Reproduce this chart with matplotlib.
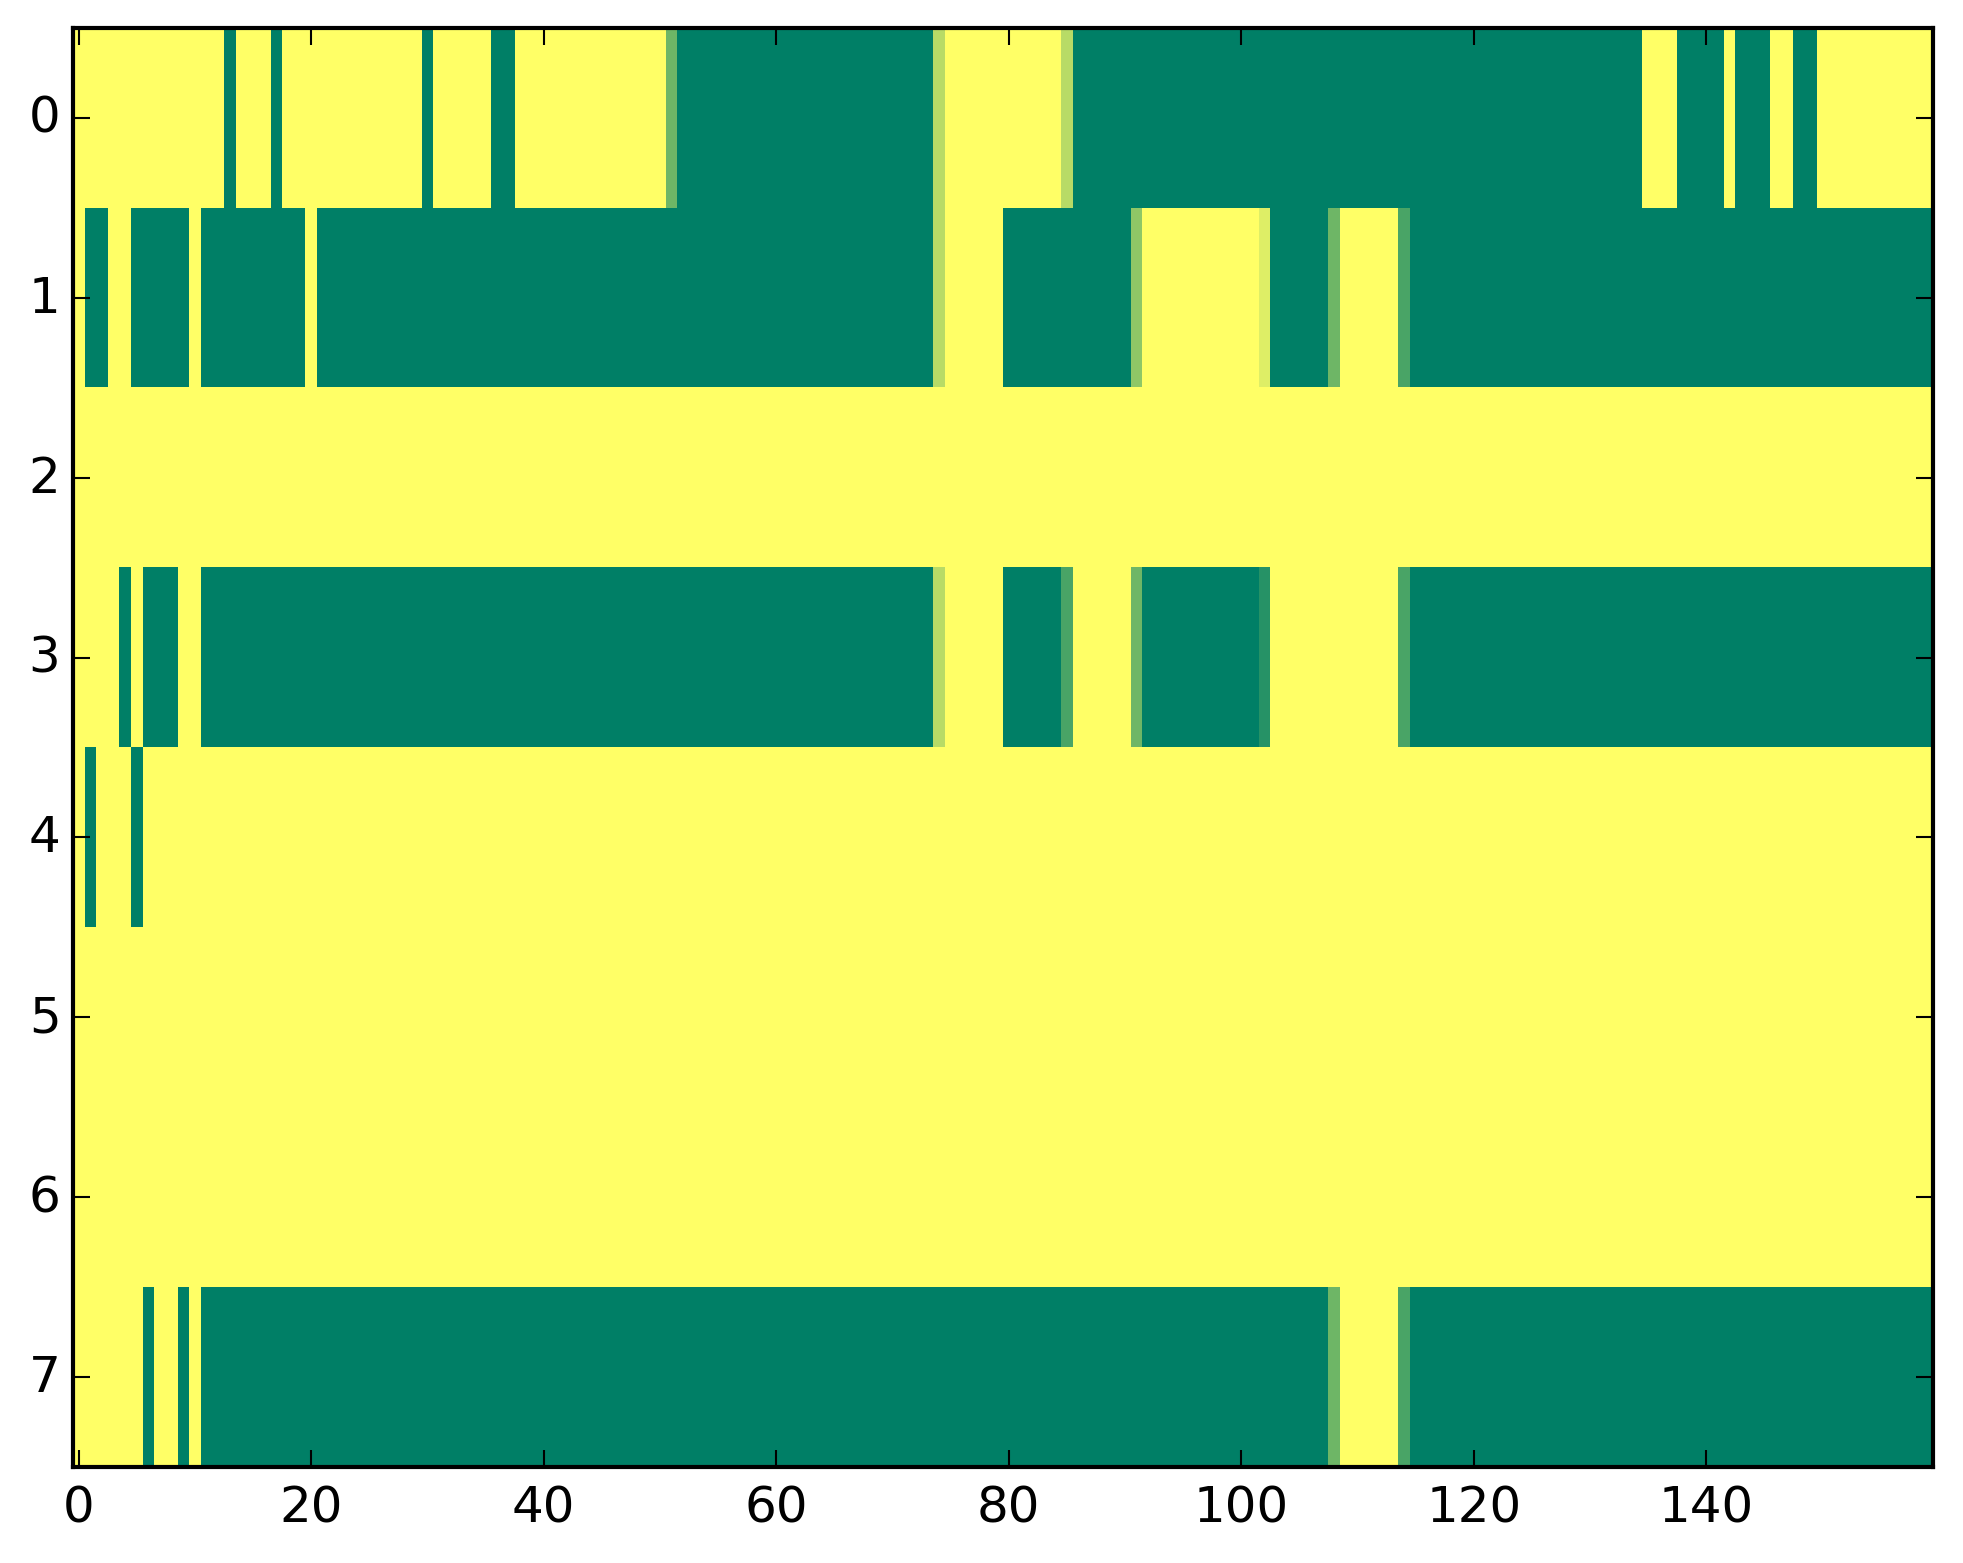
import numpy as np
import matplotlib
matplotlib.use("Agg")
import matplotlib.pyplot as plt

# each row given as (value, run length) pairs, read left to right
row0 = [(1, 13), (0, 1), (1, 3), (0, 1), (1, 12), (0, 1), (1, 5), (0, 2), (1, 13),
        (0.43, 1), (0, 22), (0.72, 1), (1, 10), (0.72, 1), (0, 49), (1, 3), (0, 4),
        (1, 1), (0, 3), (1, 2), (0, 2), (1, 10)]
row1 = [(1, 1), (0, 2), (1, 2), (0, 5), (1, 1), (0, 9), (1, 1), (0, 53), (0.72, 1),
        (1, 5), (0, 11), (0.56, 1), (1, 10), (0.87, 1), (0, 5), (0.43, 1), (1, 5),
        (0.29, 1), (0, 45)]
row2 = [(1, 160)]
row3 = [(1, 4), (0, 1), (1, 1), (0, 3), (1, 2), (0, 63), (0.72, 1), (1, 5), (0, 5),
        (0.29, 1), (1, 5), (0.43, 1), (0, 10), (0.15, 1), (1, 11), (0.29, 1), (0, 45)]
row4 = [(1, 1), (0, 1), (1, 3), (0, 1), (1, 154)]
row5 = [(1, 160)]
row6 = [(1, 160)]
row7 = [(1, 6), (0, 1), (1, 2), (0, 1), (1, 1), (0, 97), (0.43, 1), (1, 5), (0.29, 1),
        (0, 45)]

rows = [row0, row1, row2, row3, row4, row5, row6, row7]


def expand(runs):
    vals = [v for v, n in runs]
    counts = [n for v, n in runs]
    return np.repeat(vals, counts)


data = np.vstack([expand(r) for r in rows])

plt.style.use('classic')
W, H = 1963, 1564
fig = plt.figure(figsize=(W / 300, H / 300))
ax = fig.add_axes([73 / W, (H - 1468) / H, (1933 - 73) / W, 1439 / H])
ax.imshow(data, cmap='summer', aspect='auto', interpolation='nearest',
          vmin=0, vmax=1)
ax.tick_params(axis='y', pad=3)

fig.savefig("out.png", dpi=300)
